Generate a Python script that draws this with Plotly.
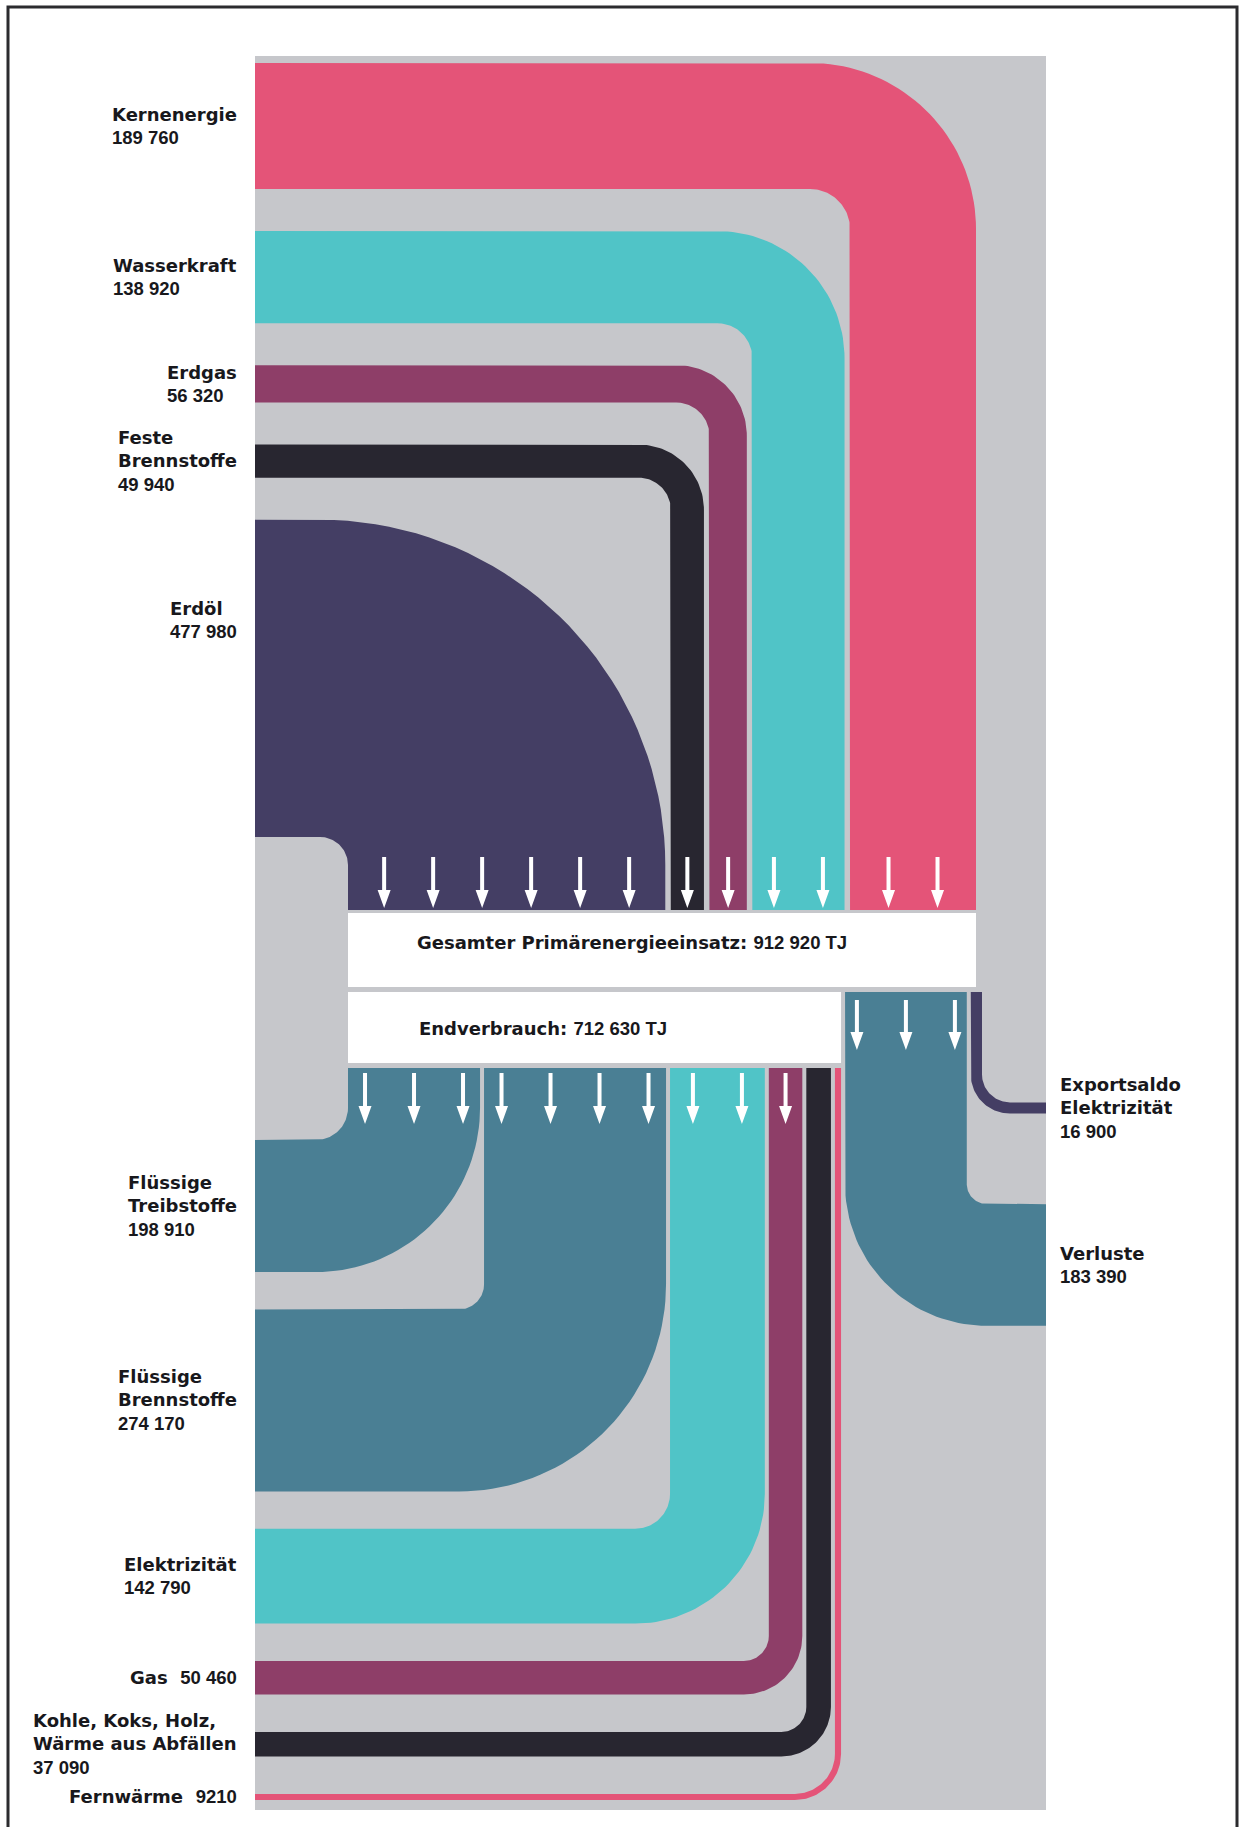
import numpy as np
import plotly.graph_objects as go

# ---------------- data ----------------
prim_names = ["Kernenergie", "Wasserkraft", "Erdgas", "Feste<br>Brennstoffe", "Erdöl"]
prim_values = [189760, 138920, 56320, 49940, 477980]
prim_colors = ["#E45478", "#50C4C7", "#8E3E68", "#282630", "#443E64"]
prim_arrows = [2, 2, 1, 1, 6]

final_names = ["Flüssige<br>Treibstoffe", "Flüssige<br>Brennstoffe", "Elektrizität", "Gas",
               "Kohle, Koks, Holz,<br>Wärme aus Abfällen", "Fernwärme"]
final_values = [198910, 274170, 142790, 50460, 37090, 9210]
final_colors = ["#4A7F94", "#4A7F94", "#50C4C7", "#8E3E68", "#282630", "#E45478"]
final_arrows = [3, 4, 2, 1, 0, 0]
final_inline = [False, False, False, True, False, True]

side_names = ["Verluste", "Exportsaldo<br>Elektrizität"]
side_values = [183390, 16900]
side_colors = ["#4A7F94", "#443E64"]
side_arrows = [3, 0]

total_primary = 912920
total_final = 712630
title_primary = "Gesamter Primärenergieeinsatz:"
title_final = "Endverbrauch:"

# ---------------- layout constants (pixel space) ----------------
W, H = 1248, 1827
XL, XR, GY0, GY1 = 255, 1046, 56, 1810
BAR_L, BAR1_R = 348, 976
TOP_GAP, BOT_GAP = 5.5, 4.0
TOP_ROW_Y0, TOP_ROW_Y1 = 63, 837
BAND_END = 910
BAR1 = (913, 987)
BAR2 = (992, 1063)
BOT_START = 1068
BOT_ROW_Y0, BOT_ROW_Y1 = 1140, 1800
top_r = [40, 35, 33, 32, 28]
bot_r = [32, 25, 35, 25, 25, 40]
side_r = [20, 28]
side_cy = [1265, 1108]
GRAY = "#C6C7CB"
TXT = "#18181C"
PITCH = 49

k = (BAR1_R - BAR_L - 4 * TOP_GAP) / sum(prim_values)

def fmt(v):
    return f"{v:,}".replace(",", " ") if v >= 10000 else str(v)

NUMF = "font-family:Liberation Sans Narrow,Liberation Sans,Arial,sans-serif;font-size:18.5px;font-weight:bold"

def lab(name, v, inline=False):
    num = f"<span style=\"{NUMF}\">{fmt(v)}</span>"
    if inline:
        return f"<b>{name}  </b>{num}"
    return f"<b>{name}</b><br>{num}"

def arc(cx, cy, r, a0, a1, n=40):
    t = np.radians(np.linspace(a0, a1, n))
    return list(cx + r * np.cos(t)), list(cy + r * np.sin(t))

fig = go.Figure()

def poly(xs, ys, color):
    fig.add_trace(go.Scatter(x=xs + [xs[0]], y=ys + [ys[0]], mode="lines", fill="toself",
                             fillcolor=color, line=dict(width=0, color=color),
                             hoverinfo="skip", showlegend=False))

arrow_x, arrow_y = [], []
def arrows(xc_band, n, y0, y1):
    hl, hw, sw = 18, 6.5, 2.0
    for j in range(n):
        xc = xc_band + (j - (n - 1) / 2) * PITCH
        px = [xc - sw, xc + sw, xc + sw, xc + hw, xc, xc - hw, xc - sw, xc - sw]
        py = [y0, y0, y1 - hl, y1 - hl, y1, y1 - hl, y1 - hl, y0]
        arrow_x.extend(px + [None]); arrow_y.extend(py + [None])

annots = []

# ---------------- primary bands (left -> down) ----------------
tw = [v * k for v in prim_values]
row_gap = (TOP_ROW_Y1 - TOP_ROW_Y0 - sum(tw)) / (len(tw) - 1)
rows = []
y = TOP_ROW_Y0
for w in tw:
    rows.append(y); y += w + row_gap
cols = [0] * len(tw)
x = BAR_L
for i in reversed(range(len(tw))):
    cols[i] = x; x += tw[i] + TOP_GAP

for i in range(len(tw)):
    w, yt, xa, r = tw[i], rows[i], cols[i], top_r[i]
    cx, cy = xa - r, yt + w + r
    ox, oy = arc(cx, cy, r + w, -90, 0)
    ix, iy = arc(cx, cy, r, 0, -90)
    xs = [XL, xa - r] + ox + [xa + w, xa] + ix + [XL]
    ys = [yt, yt] + oy + [BAND_END, BAND_END] + iy + [yt + w]
    poly(xs, ys, prim_colors[i])
    arrows(xa + w / 2, prim_arrows[i], 857, 908)
    ly = min(yt + w / 2, yt + 100)
    annots.append(dict(x=239, y=ly, xanchor="right", yanchor="middle", align="left",
                       text=lab(prim_names[i], prim_values[i])))

# ---------------- final consumption bands (down -> left) ----------------
bw = [v * k for v in final_values]
brow_gap = (BOT_ROW_Y1 - BOT_ROW_Y0 - sum(bw)) / (len(bw) - 1)
x = BAR_L
y = BOT_ROW_Y0
for i in range(len(bw)):
    w, r = bw[i], bot_r[i]
    xa, yt = x, y
    cx, cy = xa - r, yt - r
    ox, oy = arc(cx, cy, r + w, 0, 90)
    ix, iy = arc(cx, cy, r, 90, 0)
    xs = [xa, xa + w] + ox + [XL, XL] + ix
    ys = [BOT_START, BOT_START] + oy + [yt + w, yt] + iy
    poly(xs, ys, final_colors[i])
    arrows(xa + w / 2, final_arrows[i], 1073, 1124)
    annots.append(dict(x=239, y=yt + w / 2, xanchor="right", yanchor="middle", align="left",
                       text=lab(final_names[i], final_values[i], final_inline[i])))
    x += w + BOT_GAP
    y += w + brow_gap
BAR2_R = x - BOT_GAP

# ---------------- side bands (down -> right) ----------------
x = BAR2_R + BOT_GAP
for i in range(len(side_values)):
    w = side_values[i] * k
    r = side_r[i]
    xa = x
    yt = side_cy[i] - w / 2
    cx, cy = xa + w + r, yt - r
    ox, oy = arc(cx, cy, r + w, 180, 90)
    ix, iy = arc(cx, cy, r, 90, 180)
    xs = [xa] + ox + [XR, XR] + ix + [xa + w]
    ys = [BAR2[0]] + oy + [yt + w, yt] + iy + [BAR2[0]]
    poly(xs, ys, side_colors[i])
    arrows(xa + w / 2, side_arrows[i], 1000, 1050)
    annots.append(dict(x=1058, y=side_cy[i], xanchor="left", yanchor="middle", align="left",
                       text=lab(side_names[i], side_values[i])))
    x += w + BOT_GAP

# white bars
poly([BAR_L, BAR1_R, BAR1_R, BAR_L], [BAR1[0], BAR1[0], BAR1[1], BAR1[1]], "#FFFFFF")
poly([BAR_L, BAR2_R, BAR2_R, BAR_L], [BAR2[0], BAR2[0], BAR2[1], BAR2[1]], "#FFFFFF")

# arrows
fig.add_trace(go.Scatter(x=arrow_x, y=arrow_y, mode="lines", fill="toself", fillcolor="#FFFFFF",
                         line=dict(width=0, color="#FFFFFF"), hoverinfo="skip", showlegend=False))

annots.append(dict(x=415, y=942, xanchor="left", yanchor="middle",
                   text=f"<b>{title_primary} </b><span style=\"{NUMF}\">{fmt(total_primary)} TJ</span>"))
annots.append(dict(x=417, y=1028, xanchor="left", yanchor="middle",
                   text=f"<b>{title_final} </b><span style=\"{NUMF}\">{fmt(total_final)} TJ</span>"))
for a in annots:
    a.update(xref="x", yref="y", showarrow=False,
             font=dict(family="DejaVu Sans", size=18, color=TXT))

shapes = [
    dict(type="rect", xref="x", yref="y", x0=XL, x1=XR, y0=GY0, y1=GY1,
         fillcolor=GRAY, line=dict(width=0), layer="below"),
    dict(type="path", xref="x", yref="y", path=f"M 8 {H} L 8 7 L 1237 7 L 1237 {H}",
         line=dict(color="#2B2B2E", width=3), layer="above"),
]

fig.update_layout(
    width=W, height=H, margin=dict(l=0, r=0, t=0, b=0),
    paper_bgcolor="white", plot_bgcolor="white",
    xaxis=dict(range=[0, W], visible=False, fixedrange=True),
    yaxis=dict(range=[H, 0], visible=False, fixedrange=True),
    shapes=shapes, annotations=annots, showlegend=False,
)
fig.write_html("out.html", config={"displayModeBar": False},
               post_script="document.body.style.margin='0px';document.body.style.overflow='hidden';")
